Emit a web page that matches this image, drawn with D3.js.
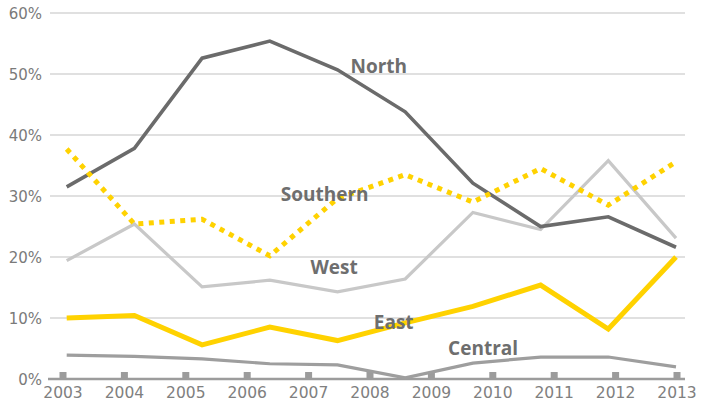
<!DOCTYPE html>
<html><head><meta charset="utf-8">
<script src="https://cdn.jsdelivr.net/npm/d3@7"></script>
<style>body{margin:0;background:#fff}svg{display:block}</style>
</head><body>
<svg id="c" width="703" height="408"></svg>
<script>
const years = [2003,2004,2005,2006,2007,2008,2009,2010,2011,2012,2013];
const yTicks = [0,10,20,30,40,50,60];
const north    = [31.5,37.8,52.6,55.4,50.7,43.8,32.1,25.0,26.6,21.6];
const southern = [37.7,25.4,26.2,20.2,29.6,33.5,29.0,34.5,28.5,35.6];
const west     = [19.4,25.4,15.1,16.2,14.3,16.4,27.3,24.5,35.8,23.1];
const east     = [10.0,10.4,5.6,8.5,6.3,9.2,11.9,15.4,8.2,20.0];
const central  = [3.9,3.7,3.3,2.5,2.3,0.2,2.6,3.6,3.6,2.0];
const labelNames = ["North","Southern","West","East","Central"];
const labelIdx   = [4.61,3.81,3.95,4.83,6.15];
const labelVal   = [50.1,29.1,17.2,8.2,3.9];

const svg = d3.select("#c");
const x = d3.scaleLinear().domain([0,9]).range([66.7,676]);
const xYear = d3.scaleLinear().domain([2003,2013]).range([63,677]);
const y = d3.scaleLinear().domain([0,60]).range([379,13]);

// gridlines
svg.append("g").selectAll("line").data(yTicks.filter(d=>d>0)).join("line")
  .attr("x1",50).attr("x2",685)
  .attr("y1",d=>y(d)).attr("y2",d=>y(d))
  .attr("stroke","#d6d6d6").attr("stroke-width",1.5);

// y labels
svg.append("g").selectAll("text").data(yTicks).join("text")
  .attr("x",42).attr("y",d=>y(d)+6)
  .attr("text-anchor","end")
  .attr("font-family","DejaVu Sans").attr("font-size",15)
  .attr("fill","#7a7a7a")
  .text(d=>d+"%");

// x axis baseline
svg.append("line").attr("x1",48).attr("x2",685).attr("y1",y(0)).attr("y2",y(0))
  .attr("stroke","#9c9c9c").attr("stroke-width",2.5);
svg.append("g").selectAll("rect").data(years).join("rect")
  .attr("x",d=>xYear(d)-3.5).attr("y",y(0)-7).attr("width",7).attr("height",7)
  .attr("fill","#9c9c9c");
svg.append("g").selectAll("text").data(years).join("text")
  .attr("x",d=>xYear(d)).attr("y",398)
  .attr("text-anchor","middle")
  .attr("font-family","DejaVu Sans").attr("font-size",15.5)
  .attr("fill","#808080")
  .text(d=>d);

const line = d3.line().x((d,i)=>x(i)).y(d=>y(d));
const series = [
  {v:west, c:"#c8c8c8", w:3.2},
  {v:central, c:"#9e9e9e", w:3.2},
  {v:north, c:"#6b6b6b", w:3.6},
  {v:east, c:"#ffd200", w:5},
  {v:southern, c:"#ffd200", w:5, dash:"5,5.5"}
];
svg.append("g").selectAll("path").data(series).join("path")
  .attr("d",d=>line(d.v))
  .attr("fill","none")
  .attr("stroke",d=>d.c)
  .attr("stroke-width",d=>d.w)
  .attr("stroke-linejoin","miter")
  .attr("stroke-dasharray",d=>d.dash||null);

svg.append("g").selectAll("text").data(labelNames).join("text")
  .attr("x",(d,i)=>x(labelIdx[i])).attr("y",(d,i)=>y(labelVal[i]))
  .attr("text-anchor","middle")
  .attr("font-family","Open Sans").attr("font-weight","bold").attr("font-size",19)
  .attr("fill","#6e6e6e")
  .text(d=>d);
</script>
</body></html>
